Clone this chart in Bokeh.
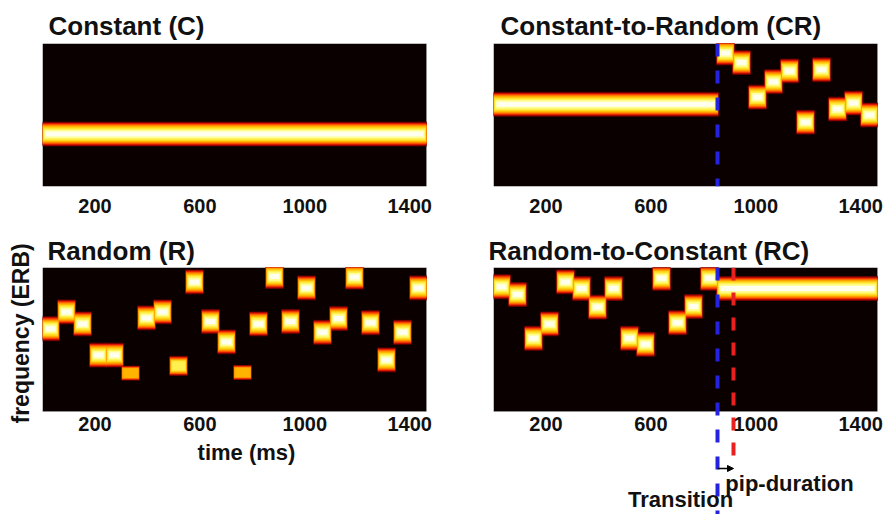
import numpy as np
from bokeh.plotting import figure
from bokeh.models import (ColumnDataSource, Range1d, FixedTicker, Arrow, NormalHead,
                          Label, Span, BoxAnnotation, Title)
from bokeh.layouts import row, column
from bokeh.embed import file_html
from bokeh.resources import INLINE

# ---------------- data ----------------
PIP_MS = 61            # duration of one tone pip (ms)
N_PIPS = 24            # pips per sequence
TRANSITION_PIP = 14    # pip index at which CR / RC change
x_ticks = [200, 600, 1000, 1400]

C_freq = 4.4                                   # constant sequence (ERB units, arbitrary origin)
CR_const_freq = 6.9
CR_random_freqs = [11.2, 10.4, 7.5, 8.8, 9.7, 5.4, 9.8, 6.5, 7.0, 6.0]
R_freqs = [6.9, 8.3, 7.3, 4.7, 4.7, 3.2, 7.8, 8.3, 3.8, 10.8, 7.5, 5.8,
           3.25, 7.3, 11.25, 7.5, 10.3, 6.6, 7.75, 11.2, 7.4, 4.3, 6.6, 10.3]
R_levels = [1, 1, 1, 1, 1, 0.6, 1, 1, 0.8, 1, 1, 1,
            0.6, 1, 1, 1, 1, 1, 1, 1, 1, 1, 1, 1]
RC_random_freqs = [10.4, 9.75, 6.1, 7.3, 10.8, 10.25, 8.7, 10.25, 6.1, 5.6, 11.1, 7.4, 8.75, 11.1]
RC_const_freq = 10.25

# ---------------- styling ----------------
FONT = "Liberation Sans"
BG = "#0b0000"
INK = "#111111"
FRAME = "#b4b4b4"
BLUE = "#2424e0"
RED = "#e82020"
TONE_H = 2.1
# (colour, inset as fraction of a pip on each side, height fraction, minimum level)
LAYERS = [
    ("#400000", -0.07, 1.00, 0.0),
    ("#900000", -0.06, 0.95, 0.0),
    ("#d81800", -0.05, 0.88, 0.0),
    ("#ff5000", -0.04, 0.80, 0.0),
    ("#ff8800", -0.02, 0.72, 0.0),
    ("#ffb400", 0.00, 0.64, 0.0),
    ("#ffd820", 0.03, 0.55, 0.7),
    ("#fff050", 0.07, 0.45, 0.7),
    ("#ffff98", 0.12, 0.33, 0.9),
    ("#fffff0", 0.20, 0.20, 0.9),
]
TOTAL_MS = N_PIPS * PIP_MS
TRANS_MS = TRANSITION_PIP * PIP_MS
IMG_PX = 384           # width of each spectrogram box in pixels


def add_tones(p, onsets, durations, freqs, levels=None):
    if levels is None:
        levels = [1.0] * len(freqs)
    for color, inset, hf, minlev in LAYERS:
        src = ColumnDataSource(dict(
            l=[max(0.0, o + inset * PIP_MS) for o in onsets],
            r=[min(float(TOTAL_MS), o + d - inset * PIP_MS) for o, d in zip(onsets, durations)],
            b=[f - TONE_H * hf * lv / 2 for f, lv in zip(freqs, levels)],
            t=[f + TONE_H * hf * lv / 2 for f, lv in zip(freqs, levels)],
            a=[1.0 if lv >= minlev else 0.0 for lv in levels],
        ))
        p.quad(left="l", right="r", bottom="b", top="t", source=src,
               fill_color=color, fill_alpha="a", line_color=None)


def make_fig(title, width, height, bl, bt, bb, tick_standoff, title_offset,
             title_standoff, y_range=(0, 12), fixed_axis=False):
    extra_px = width - bl - IMG_PX
    p = figure(width=width, height=height, title=title,
               x_range=Range1d(0, TOTAL_MS * (IMG_PX + extra_px) / IMG_PX),
               y_range=Range1d(*y_range),
               output_backend="svg", toolbar_location=None, tools="",
               min_border_left=bl, min_border_right=0,
               min_border_top=bt, min_border_bottom=bb)
    p.background_fill_color = "white"
    p.border_fill_color = "white"
    p.outline_line_color = None
    p.grid.visible = False
    p.yaxis.visible = False
    p.add_layout(BoxAnnotation(left=0, right=TOTAL_MS, bottom=0, top=12, fill_color=BG,
                               fill_alpha=1, line_color=FRAME, line_width=1,
                               level="underlay"))
    ax = p.xaxis[0]
    if fixed_axis:
        ax.fixed_location = 0
    ax.ticker = FixedTicker(ticks=x_ticks)
    ax.axis_line_color = None
    ax.major_tick_line_color = None
    ax.minor_tick_line_color = None
    ax.major_tick_out = 0
    ax.major_tick_in = 0
    ax.major_label_standoff = tick_standoff
    ax.major_label_text_font = FONT
    ax.major_label_text_font_size = "20px"
    ax.major_label_text_font_style = "bold"
    ax.major_label_text_color = INK
    p.title.text_font = FONT
    p.title.text_font_size = "26px"
    p.title.text_font_style = "bold"
    p.title.text_color = INK
    p.title.align = "left"
    p.title.offset = title_offset
    p.title.standoff = title_standoff
    return p


LW, RW = 450, 436
TH, BH = 231, 283
BT = 36
low = 12 - (BH - BT) * 12 / 144   # bottom rows: frame runs to the page bottom, box at y in [0, 12]

# Constant (C)
p1 = make_fig("Constant (C)", LW, TH, 42, 43, 45, 12, 6, 5)
add_tones(p1, [0], [TOTAL_MS], [C_freq])

# Constant-to-Random (CR)
p2 = make_fig("Constant-to-Random (CR)", RW, TH, 43, 43, 45, 12, 7, 5)
cr_on = [0] + [TRANS_MS + i * PIP_MS for i in range(len(CR_random_freqs))]
cr_du = [TRANS_MS] + [PIP_MS] * len(CR_random_freqs)
add_tones(p2, cr_on, cr_du, [CR_const_freq] + CR_random_freqs)
p2.add_layout(Span(location=TRANS_MS, dimension="height", line_color=BLUE,
                   line_width=4, line_dash="13 14"))

# Random (R)
p3 = make_fig("Random (R)", LW, BH, 42, BT, 0, 5, 5, 3, y_range=(low, 12), fixed_axis=True)
add_tones(p3, [i * PIP_MS for i in range(len(R_freqs))], [PIP_MS] * len(R_freqs), R_freqs, R_levels)
p3.xaxis.axis_label = "time (ms)"
p3.xaxis.axis_label_text_font = FONT
p3.xaxis.axis_label_text_font_size = "22px"
p3.xaxis.axis_label_text_font_style = "bold"
p3.xaxis.axis_label_text_color = INK
p3.xaxis.axis_label_standoff = 6
p3.add_layout(Title(text="frequency (ERB)", align="left", offset=91, standoff=13,
                    vertical_align="top", text_font=FONT, text_font_size="23px",
                    text_font_style="bold", text_color=INK), "left")

# Random-to-Constant (RC)
p4 = make_fig("Random-to-Constant (RC)", RW, BH, 43, BT, 0, 5, -5, 3, y_range=(low, 12), fixed_axis=True)
rc_on = [i * PIP_MS for i in range(len(RC_random_freqs))] + [TRANS_MS]
rc_du = [PIP_MS] * len(RC_random_freqs) + [TOTAL_MS - TRANS_MS]
add_tones(p4, rc_on, rc_du, RC_random_freqs + [RC_const_freq])
p4.add_layout(Span(location=TRANS_MS, dimension="height", line_color=BLUE,
                   line_width=4, line_dash="13 14"))
p4.segment(x0=[TRANS_MS + PIP_MS], y0=[12], x1=[TRANS_MS + PIP_MS], y1=[-3.83],
           line_color=RED, line_width=4, line_dash="13 12")
p4.add_layout(Arrow(end=NormalHead(size=6, fill_color="black", line_color="black"),
                    x_start=TRANS_MS, y_start=-4.75, x_end=TRANS_MS + PIP_MS, y_end=-4.75,
                    line_color="black", line_width=1.5))
p4.add_layout(Label(x=884, y=-6.0, text="pip-duration", text_align="left", text_baseline="middle",
                    text_font=FONT, text_font_size="22px", text_font_style="bold", text_color=INK))
p4.add_layout(Label(x=713, y=-7.35, text="Transition", text_align="center", text_baseline="alphabetic",
                    text_font=FONT, text_font_size="22px", text_font_style="bold", text_color=INK))

layout = column(row(p1, p2), row(p3, p4))
open("out.html", "w").write(file_html(layout, INLINE))
